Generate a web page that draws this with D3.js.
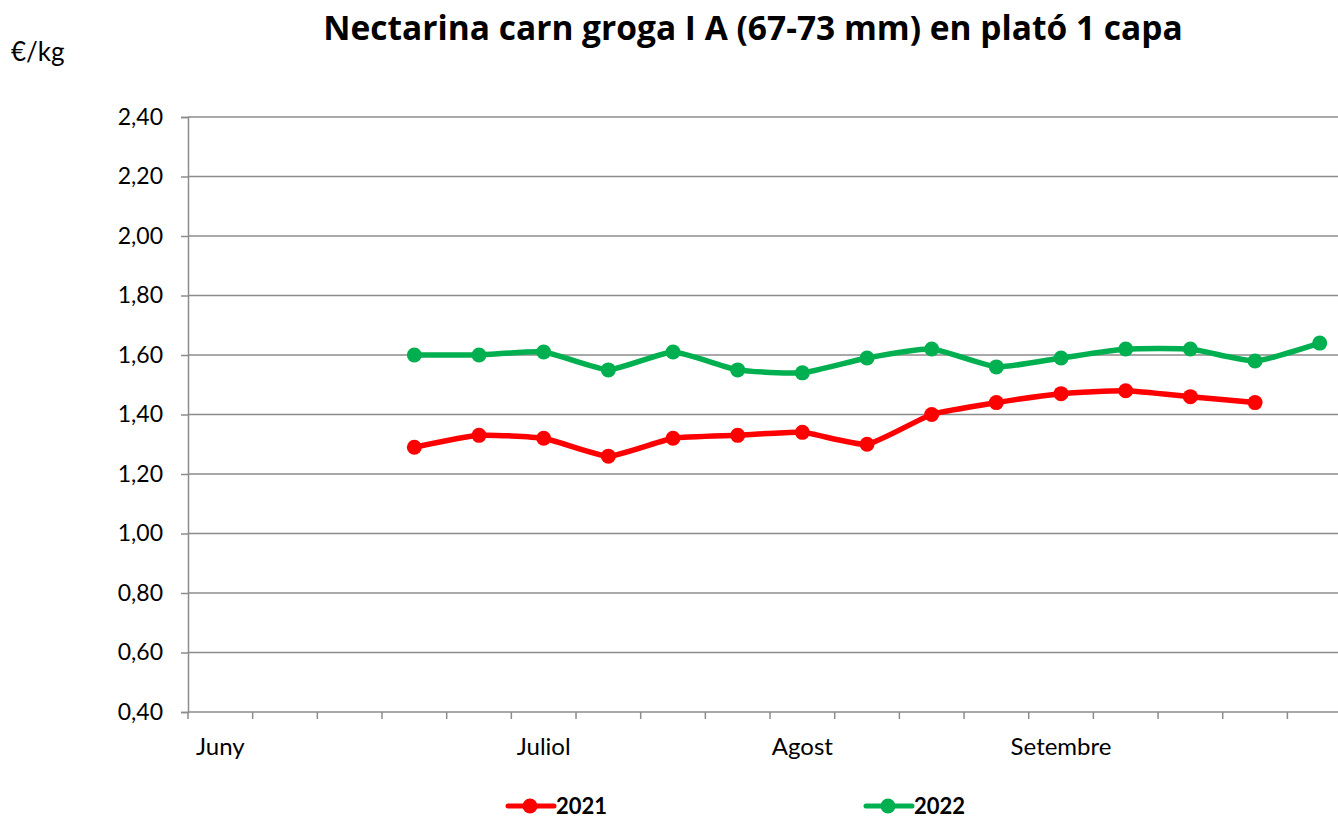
<!DOCTYPE html>
<html>
<head>
<meta charset="utf-8">
<script src="https://cdn.jsdelivr.net/npm/d3@7"></script>
<style>
  html, body { margin: 0; padding: 0; background: #fff; }
  svg { display: block; }
  text { font-family: Lato, "Open Sans", sans-serif; fill: #000; }
</style>
</head>
<body>
<svg id="chart" width="1338" height="818"></svg>
<script>
// Weekly categories (month name shown on its first week)
const weeks = ["Juny", "", "", "", "", "Juliol", "", "", "", "Agost", "", "", "", "Setembre", "", "", "", ""];
// Prices €/kg per week; null where no quote
const prices2021 = [null, null, null, 1.29, 1.33, 1.32, 1.26, 1.32, 1.33, 1.34, 1.30, 1.40, 1.44, 1.47, 1.48, 1.46, 1.44, null];
const prices2022 = [null, null, null, 1.60, 1.60, 1.61, 1.55, 1.61, 1.55, 1.54, 1.59, 1.62, 1.56, 1.59, 1.62, 1.62, 1.58, 1.64];
const yTicks = [0.40, 0.60, 0.80, 1.00, 1.20, 1.40, 1.60, 1.80, 2.00, 2.20, 2.40];
const series = [
  { name: "2021", values: prices2021, color: "#FF0000" },
  { name: "2022", values: prices2022, color: "#00B050" }
];

const svg = d3.select("#chart");
const plotLeft = 188, plotTop = 117, plotBottom = 712;
const bandW = 64.67;
const plotRight = plotLeft + bandW * weeks.length;

const x = d3.scaleBand().domain(d3.range(weeks.length)).range([plotLeft, plotRight]).padding(0);
const y = d3.scaleLinear().domain([0.4, 2.4]).range([plotBottom, plotTop]);
const fmt = v => d3.format(".2f")(v).replace(".", ",");

// Title
svg.append("text")
  .attr("x", 753).attr("y", 40)
  .attr("text-anchor", "middle")
  .style("font-family", "'Open Sans', sans-serif")
  .style("font-size", "33.5px").style("font-weight", "bold")
  .text("Nectarina carn groga I A (67-73 mm) en plató 1 capa");

// Unit label
svg.append("text")
  .attr("x", 11).attr("y", 61)
  .style("font-size", "26px")
  .text("€/kg");

// Horizontal gridlines
svg.append("g")
  .selectAll("line")
  .data(yTicks.slice(1))
  .join("line")
  .attr("x1", plotLeft).attr("x2", plotRight)
  .attr("y1", d => y(d)).attr("y2", d => y(d))
  .attr("stroke", "#8c8c8c").attr("stroke-width", 1.5);

// Y axis
const yAxis = svg.append("g")
  .attr("transform", `translate(${plotLeft},0)`)
  .call(d3.axisLeft(y).tickValues(yTicks).tickFormat(fmt).tickSize(7).tickPadding(18));
yAxis.select(".domain").attr("stroke", "#8c8c8c").attr("stroke-width", 1.5);
yAxis.selectAll(".tick line").attr("stroke", "#8c8c8c").attr("stroke-width", 1.5);
yAxis.selectAll(".tick text").style("font-size", "23px").style("font-family", "Lato, sans-serif").attr("fill", "#000");

// X axis: ticks at band boundaries, labels at band centres
const xAxisG = svg.append("g").attr("transform", `translate(0,${plotBottom})`);
xAxisG.append("line")
  .attr("x1", plotLeft).attr("x2", plotRight)
  .attr("stroke", "#8c8c8c").attr("stroke-width", 1.5);
xAxisG.selectAll("line.tk")
  .data(d3.range(weeks.length + 1))
  .join("line").attr("class", "tk")
  .attr("x1", i => plotLeft + i * x.bandwidth()).attr("x2", i => plotLeft + i * x.bandwidth())
  .attr("y1", 0).attr("y2", 7)
  .attr("stroke", "#8c8c8c").attr("stroke-width", 1.5);
xAxisG.selectAll("text")
  .data(weeks.map((w, i) => ({ w, i })).filter(d => d.w))
  .join("text")
  .attr("x", d => x(d.i) + x.bandwidth() / 2)
  .attr("y", 43)
  .attr("text-anchor", "middle")
  .style("font-size", "24px")
  .text(d => d.w);

// Series lines and markers
const line = d3.line()
  .defined(d => d != null)
  .x((d, i) => x(i) + x.bandwidth() / 2)
  .y(d => y(d))
  .curve(d3.curveCardinal.tension(0.5));

series.forEach(s => {
  svg.append("path")
    .datum(s.values)
    .attr("d", line)
    .attr("fill", "none")
    .attr("stroke", s.color)
    .attr("stroke-width", 5.5)
    .attr("stroke-linejoin", "round")
    .attr("stroke-linecap", "round");
  svg.append("g")
    .selectAll("circle")
    .data(s.values.map((v, i) => ({ v, i })).filter(d => d.v != null))
    .join("circle")
    .attr("cx", d => x(d.i) + x.bandwidth() / 2)
    .attr("cy", d => y(d.v))
    .attr("r", 7.5)
    .attr("fill", s.color);
});

// Legend
const legendX = [508, 866];
series.forEach((s, k) => {
  const g = svg.append("g").attr("transform", `translate(${legendX[k]},806)`);
  g.append("line").attr("x1", 0).attr("x2", 46).attr("y1", 0).attr("y2", 0)
    .attr("stroke", s.color).attr("stroke-width", 5).attr("stroke-linecap", "round");
  g.append("circle").attr("cx", 22).attr("cy", 0).attr("r", 7.5).attr("fill", s.color);
  g.append("text").attr("x", 48).attr("y", 8)
    .style("font-size", "22px").style("font-weight", "bold")
    .text(s.name);
});
</script>
</body>
</html>
